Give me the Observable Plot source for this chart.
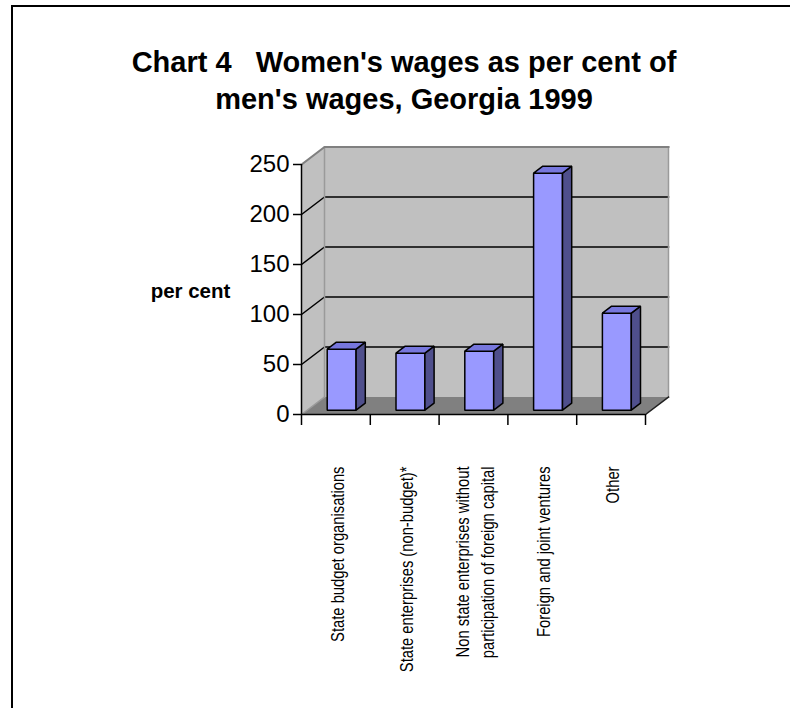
<!DOCTYPE html>
<html><head><meta charset="utf-8">
<script src="https://cdn.jsdelivr.net/npm/d3@7"></script>
<script src="https://cdn.jsdelivr.net/npm/@observablehq/plot@0.6"></script>
<style>
html,body{margin:0;padding:0;background:#fff;width:790px;height:708px;overflow:hidden;}
#chart{position:absolute;left:0;top:0;}
#chart svg{max-width:none;overflow:visible;background:transparent;}
#frame{position:absolute;left:11px;top:5px;width:900px;height:900px;border-left:2px solid #000;border-top:2px solid #000;pointer-events:none;}
#title{position:absolute;left:0;top:44px;width:808px;text-align:center;font:bold 29px "Liberation Sans",Arial,sans-serif;line-height:37px;white-space:pre;color:#000;}
</style></head>
<body>
<div id="chart"></div>
<div id="frame"></div>
<div id="title"></div>
<script>
// ---- data ----
const titleLines = ["Chart 4   Women's wages as per cent of", "men's wages, Georgia 1999"];
const categories = [
  "State budget organisations",
  "State enterprises (non-budget)*",
  "Non state enterprises without\nparticipation of foreign capital",
  "Foreign and joint ventures",
  "Other"
];
const values = [61, 57, 59, 237, 97];
const yTicks = [0, 50, 100, 150, 200, 250];
const gridValues = [50, 100, 150, 200];
const yLabel = "per cent";

document.getElementById("title").textContent = titleLines.join("\n");

// ---- layout ----
const W = 790, H = 708, mL = 301, mR = 145, mT = 164, mB = 294;
const yMax = yTicks[yTicks.length - 1];
const nCat = categories.length;
const pxPerX = (W - mL - mR) / nCat;
const pxPerY = (H - mT - mB) / yMax;
const depthPx = [23, 17.5];
const P = (c, v, d) => ({x: c + d * depthPx[0] / pxPerX, y: v + d * depthPx[1] / pxPerY});
const poly = (id, pts) => pts.map(([c, v, d]) => ({id, ...P(c, v, d)}));

const sideWall = poly("side", [[0,0,0],[0,0,1],[0,yMax,1],[0,yMax,0]]);
const backWall = poly("back", [[0,0,1],[nCat,0,1],[nCat,yMax,1],[0,yMax,1]]);
const floor = poly("floor", [[0,0,0],[nCat,0,0],[nCat,0,1],[0,0,1]]);
const grid = gridValues.flatMap(v => poly(v, [[0,v,0],[0,v,1],[nCat,v,1]]));
const edgesDark = poly("top", [[0,yMax,0],[0,yMax,1],[nCat,yMax,1]]);
const edgesLight = [
  ...poly("right", [[nCat,yMax,1],[nCat,0,1]]),
  ...poly("backleft", [[0,0,1],[0,yMax,1]]),
  ...poly("floorleft", [[0,0,0],[0,0,1]])
];
const floorRight = poly("fr", [[nCat,0,0],[nCat,0,1]]);

const barW = 0.42, b0 = 0.25, b1 = 0.65;
const fronts = [], sides = [], tops = [];
values.forEach((v, i) => {
  const xl = i + 0.5 - barW / 2, xr = i + 0.5 + barW / 2;
  fronts.push(...poly(i, [[xl,0,b0],[xr,0,b0],[xr,v,b0],[xl,v,b0]]));
  sides.push(...poly(i, [[xr,0,b0],[xr,0,b1],[xr,v,b1],[xr,v,b0]]));
  tops.push(...poly(i, [[xl,v,b0],[xr,v,b0],[xr,v,b1],[xl,v,b1]]));
});

const catSize = 18;

const face = (data, fill, extra = {}) => Plot.line(data, {x: "x", y: "y", z: "id", curve: "linear-closed", fill, stroke: "none", ...extra});
const edge = (data, stroke, w) => Plot.line(data, {x: "x", y: "y", z: "id", stroke, strokeWidth: w, strokeLinejoin: "miter", strokeLinecap: "square"});

const chart = Plot.plot({
  width: W, height: H,
  marginLeft: mL, marginRight: mR, marginTop: mT, marginBottom: mB,
  style: {fontFamily: "'Liberation Sans', Arial, sans-serif", background: "transparent", color: "#000"},
  x: {domain: [0, nCat], axis: null},
  y: {domain: [0, yMax], axis: null},
  marks: [
    face(sideWall, "#c0c0c0"),
    face(backWall, "#c0c0c0"),
    face(floor, "#808080"),
    edge(grid, "#000", 1.5),
    edge(edgesLight, "#9a9a9a", 1.5),
    edge(edgesDark, "#808080", 2),
    edge(floorRight, "#202020", 1.5),
    face(fronts, "#9999ff", {stroke: "#000", strokeWidth: 1.5, strokeLinejoin: "miter"}),
    face(sides, "#4f4f8c", {stroke: "#000", strokeWidth: 1.5, strokeLinejoin: "miter"}),
    face(tops, "#7777dd", {stroke: "#000", strokeWidth: 1.5, strokeLinejoin: "miter"}),
    Plot.ruleX([0], {y1: 0, y2: yMax, stroke: "#000", strokeWidth: 1.5}),
    Plot.ruleY([0], {x1: 0, x2: nCat, stroke: "#000", strokeWidth: 1.5}),
    Plot.axisY({ticks: yTicks, tickSize: 8, tickPadding: 4, fontSize: 24, label: null, strokeWidth: 1.5, tickFormat: d => String(d)}),
    Plot.axisX({ticks: d3.range(nCat + 1), tickSize: 11, tickFormat: () => "", label: null, strokeWidth: 1.5}),
    Plot.text(categories, {x: (d, i) => i + 0.5, y: 0, text: d => d, rotate: -90, textAnchor: "end", dy: 52,
      fontSize: catSize, lineHeight: 25 / catSize, fill: "#000"}),
    Plot.text([yLabel], {frameAnchor: "left", text: d => d, dx: -111, dy: 2, textAnchor: "middle", fontWeight: "bold", fontSize: 20.5, fill: "#000"})
  ]
});
// condense the rotated category labels along their reading direction (narrow face)
d3.select(chart).selectAll("text").each(function() {
  const t = this.getAttribute("transform");
  if (t && t.includes("rotate(-90)")) this.setAttribute("transform", t + " scale(0.82,1)");
});
document.getElementById("chart").appendChild(chart);
</script>
</body></html>
